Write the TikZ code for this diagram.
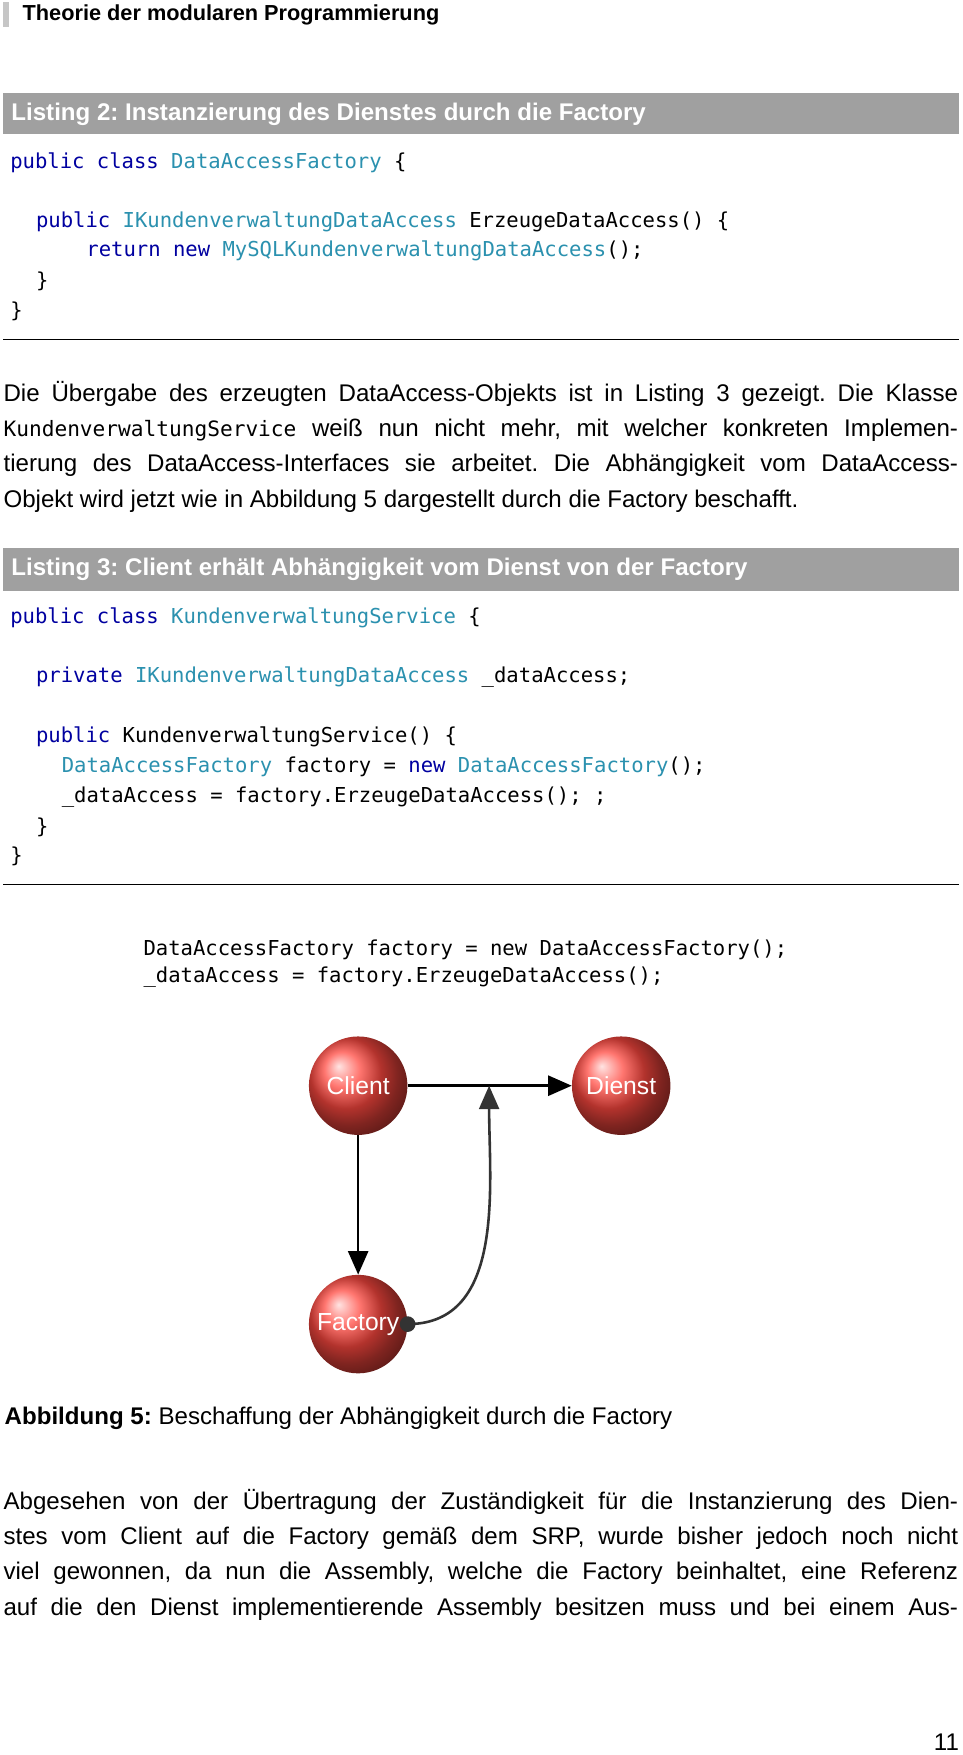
\documentclass[tikz,border=0pt]{standalone}
\usepackage{fontspec}
\setmainfont{Liberation Sans}
\setmonofont{DejaVu Sans Mono}
\usepackage{tikz}
\usetikzlibrary{arrows.meta,positioning}
\definecolor{kw}{RGB}{0,0,160}
\definecolor{ty}{RGB}{43,145,175}
\definecolor{bar}{RGB}{160,160,160}
\definecolor{ballred}{RGB}{255,40,30}
\newcommand{\kw}[1]{\textcolor{kw}{#1}}
\newcommand{\ty}[1]{\textcolor{ty}{#1}}
\newcommand{\jline}[1]{\makebox[28.55cm][s]{#1}}
\frenchspacing

\begin{document}
\begin{tikzpicture}[x=0.03348cm, y=-0.03348cm,
    txt/.style={anchor=west, inner sep=0pt, font=\fontsize{20.5}{24}\selectfont},
    code/.style={anchor=west, inner sep=0pt, font=\fontsize{17.5}{21}\ttfamily},
    head/.style={anchor=west, inner sep=0pt, text=white, font=\fontsize{20.5}{24}\selectfont\bfseries},
    ball/.style={circle, minimum size=88*0.03348cm, inner sep=0pt, shading=ball, ball color=ballred!85!white,
                 text=white, font=\fontsize{21}{24}\selectfont},
    arr/.style={draw, line width=2.2pt, -{Triangle[length=20pt,width=17pt]}}]
  \useasboundingbox[fill=white] (0,0) rectangle (860,1568);

  % page head
  \fill[bar!60] (3,2) rectangle (8,24);
  \node[txt, font=\fontsize{18.5}{22}\selectfont\bfseries] (title) at (20,13) {Theorie der modularen Programmierung};

  % Listing 2
  \fill[bar] (3,83) rectangle (857,120);
  \node[head] (lsttwo) at (10,102) {Listing 2: Instanzierung des Dienstes durch die Factory};
  \node[code] (la) at (9,145) {\kw{public class} \ty{DataAccessFactory} \{};
  \node[code] (lb) at (32,198) {\kw{public} \ty{IKundenverwaltungDataAccess} ErzeugeDataAccess() \{};
  \node[code] (lc) at (77,224) {\kw{return new} \ty{MySQLKundenverwaltungDataAccess}();};
  \node[code] (ld) at (32,251) {\}};
  \node[code] (le) at (9,278) {\}};
  \draw[thick] (3,303) -- (857,303);

  % paragraph
  \node[txt] (pa) at (3,352) {\jline{Die Übergabe des erzeugten DataAccess-Objekts ist in Listing 3 gezeigt. Die Klasse}};
  \node[txt] (pb) at (3,384) {\jline{{\fontsize{18}{21}\ttfamily KundenverwaltungService} weiß nun nicht mehr, mit welcher konkreten Implemen-}};
  \node[txt] (pc) at (3,416) {\jline{tierung des DataAccess-Interfaces sie arbeitet. Die Abhängigkeit vom DataAccess-}};
  \node[txt] (pd) at (3,448) {Objekt wird jetzt wie in Abbildung 5 dargestellt durch die Factory beschafft.};

  % Listing 3
  \fill[bar] (3,490) rectangle (857,528);
  \node[head] (lstthree) at (10,509) {Listing 3: Client erhält Abhängigkeit vom Dienst von der Factory};
  \node[code] (ma) at (9,552) {\kw{public class} \ty{KundenverwaltungService} \{};
  \node[code] (mb) at (32,605) {\kw{private} \ty{IKundenverwaltungDataAccess} \_dataAccess;};
  \node[code] (mc) at (32,658) {\kw{public} KundenverwaltungService() \{};
  \node[code] (md) at (55,685) {\ty{DataAccessFactory} factory = \kw{new} \ty{DataAccessFactory}();};
  \node[code] (me) at (55,712) {\_dataAccess = factory.ErzeugeDataAccess(); ;};
  \node[code] (mf) at (32,739) {\}};
  \node[code] (mg) at (9,765) {\}};
  \draw[thick] (3,790) -- (857,790);

  % figure
  \node[code] (fa) at (128,849) {DataAccessFactory factory = new DataAccessFactory();};
  \node[code] (fb) at (128,873) {\_dataAccess = factory.ErzeugeDataAccess();};
  \node[ball] (client) at (320,970) {Client};
  \node[ball] (dienst) at (555,970) {Dienst};
  \node[ball] (factory) at (320,1183) {Factory};
  \coordinate (join) at (437,970);
  \draw[arr] (client) -- (dienst);
  \draw[arr] (client) -- (factory);
  \fill[black!80] (factory.east) circle (7);
  \draw[arr, draw=black!80] (factory.east) to[out=0, in=-90] (join);

  \node[txt] (caption) at (4,1267) {\textbf{Abbildung 5:} Beschaffung der Abhängigkeit durch die Factory};

  % paragraph
  \node[txt] (qa) at (3,1342) {\jline{Abgesehen von der Übertragung der Zuständigkeit für die Instanzierung des Dien-}};
  \node[txt] (qb) at (3,1374) {\jline{stes vom Client auf die Factory gemäß dem SRP, wurde bisher jedoch noch nicht}};
  \node[txt] (qc) at (3,1406) {\jline{viel gewonnen, da nun die Assembly, welche die Factory beinhaltet, eine Referenz}};
  \node[txt] (qd) at (3,1438) {\jline{auf die den Dienst implementierende Assembly besitzen muss und bei einem Aus-}};

  \node[txt, anchor=east] (page) at (857,1557) {11};
\end{tikzpicture}
\end{document}
